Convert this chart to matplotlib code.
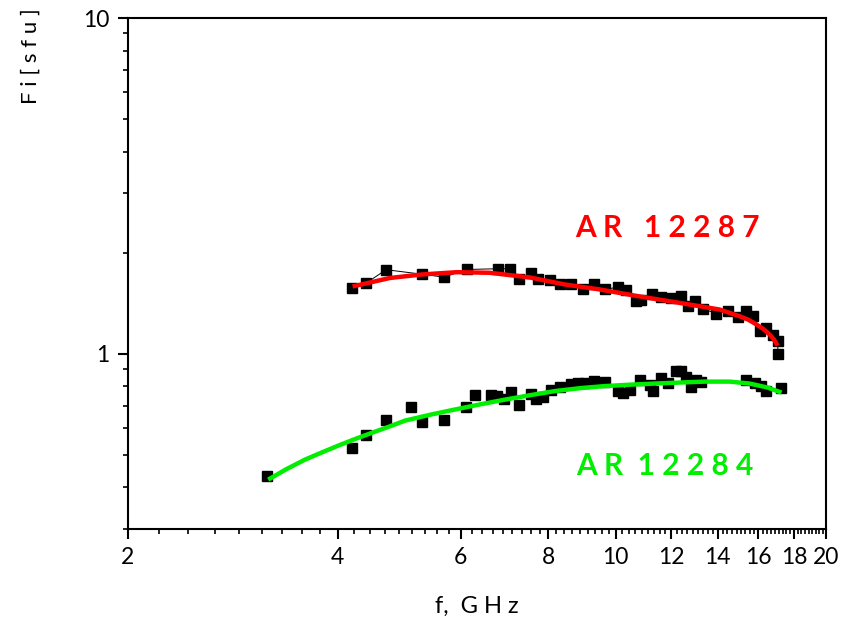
import numpy as np
import matplotlib.pyplot as plt
from matplotlib.ticker import FixedLocator, NullFormatter, LogLocator

plt.rcParams['font.family'] = ['Lato', 'DejaVu Sans']

# AR 12287 measured points (GHz, sfu)
f_12287 = [4.19, 4.39, 4.69, 5.28, 5.67, 6.13, 6.79, 7.05, 7.27, 7.55, 7.74,
           8.04, 8.31, 8.64, 8.98, 9.30, 9.64, 10.07, 10.36, 10.70, 10.88,
           11.25, 11.62, 12.01, 12.41, 12.69, 12.97, 13.33, 13.93, 14.47,
           14.96, 15.34, 15.72, 16.07, 16.42, 16.79, 17.06, 17.06]
s_12287 = [1.571, 1.621, 1.778, 1.724, 1.690, 1.781, 1.790, 1.790, 1.663,
           1.741, 1.663, 1.652, 1.607, 1.615, 1.553, 1.607, 1.553, 1.577,
           1.545, 1.439, 1.449, 1.500, 1.473, 1.467, 1.483, 1.384, 1.439,
           1.362, 1.314, 1.338, 1.283, 1.338, 1.292, 1.166, 1.193, 1.139,
           1.088, 1.000]

# AR 12287 fit curve
fit_f_12287 = [4.20, 4.75, 5.28, 5.92, 6.60, 7.53, 8.45, 9.48, 10.82, 12.76,
               14.08, 15.04, 15.50, 15.91, 16.30, 16.61, 16.85, 17.05]
fit_s_12287 = [1.585, 1.680, 1.721, 1.748, 1.741, 1.686, 1.607, 1.553, 1.480,
               1.400, 1.353, 1.292, 1.260, 1.220, 1.180, 1.139, 1.100, 1.056]

# AR 12284 measured points
f_12284 = [3.17, 4.19, 4.39, 4.69, 5.09, 5.28, 5.68, 6.11, 6.28, 6.62, 6.77,
           6.92, 7.07, 7.26, 7.56, 7.70, 7.87, 8.09, 8.31, 8.64, 8.83, 9.03,
           9.30, 9.64, 10.07, 10.24, 10.47, 10.82, 11.18, 11.31, 11.62, 11.88,
           12.21, 12.41, 12.62, 12.83, 13.04, 13.26, 15.38, 15.80, 16.12,
           16.39, 17.26]
s_12284 = [0.432, 0.523, 0.572, 0.632, 0.693, 0.624, 0.632, 0.691, 0.754,
           0.754, 0.746, 0.734, 0.768, 0.704, 0.758, 0.734, 0.741, 0.781,
           0.796, 0.812, 0.818, 0.818, 0.827, 0.821, 0.772, 0.763, 0.781,
           0.833, 0.808, 0.772, 0.846, 0.818, 0.890, 0.890, 0.852, 0.796,
           0.836, 0.821, 0.836, 0.818, 0.802, 0.775, 0.790]

# AR 12284 fit curve
fit_f_12284 = [3.18, 3.38, 3.59, 3.80, 4.00, 4.24, 4.48, 4.74, 4.99, 5.42,
               5.88, 6.40, 6.94, 7.55, 8.18, 8.90, 9.64, 10.50, 11.37, 12.40,
               13.41, 14.55, 15.55, 16.50, 17.27]
fit_s_12284 = [0.421, 0.453, 0.483, 0.508, 0.531, 0.557, 0.581, 0.606, 0.631,
               0.657, 0.681, 0.706, 0.729, 0.752, 0.773, 0.789, 0.800, 0.808,
               0.814, 0.820, 0.825, 0.825, 0.814, 0.792, 0.765]

x_major = [2, 4, 6, 8, 10, 12, 14, 16, 18, 20]

fig = plt.figure(figsize=(8.53, 6.28), dpi=100)
ax = fig.add_axes([0.1495, 0.1576, 0.8189, 0.8137])

# data points joined by a thin black line
ax.plot(f_12287, s_12287, color='black', lw=0.7, marker='s', ms=6.5, zorder=2)
ax.plot(f_12284, s_12284, color='black', lw=0, marker='s', ms=6.5, zorder=2)

# fits
ax.plot(fit_f_12287, fit_s_12287, color='#ff0000', lw=3.2, zorder=3,
        solid_capstyle='butt')
ax.plot(fit_f_12284, fit_s_12284, color='#00ee00', lw=3.2, zorder=3,
        solid_capstyle='butt')

ax.set_xscale('log')
ax.set_yscale('log')
ax.set_xlim(2, 20)
ax.set_ylim(0.3, 10)

ax.xaxis.set_major_locator(FixedLocator(x_major))
ax.set_xticklabels([str(v) for v in x_major])
minors = []
for a, b in zip(x_major[:-1], x_major[1:]):
    minors += [a + k * (b - a) / 9 for k in range(1, 9)]
ax.xaxis.set_minor_locator(FixedLocator(minors))
ax.xaxis.set_minor_formatter(NullFormatter())

ax.yaxis.set_major_locator(FixedLocator([1, 10]))
ax.set_yticklabels(['1', '10'])
ax.yaxis.set_minor_locator(LogLocator(base=10, subs=np.arange(2, 10)))
ax.yaxis.set_minor_formatter(NullFormatter())

for s in ax.spines.values():
    s.set_linewidth(1.5)
ax.tick_params(which='major', direction='out', length=7, width=1.5,
               labelsize=16.5, pad=6)
ax.tick_params(which='minor', direction='out', length=3.5, width=1.2)

ax.set_xlabel('f,  G H z', fontsize=17, labelpad=20)
ax.set_ylabel('F i [ s f u ]', fontsize=16)
ax.yaxis.set_label_coords(-0.125, 0.925)

ax.text(8.75, 2.36, 'A R   1 2 2 8 7', color='#ff0000', fontsize=21.5,
        fontweight='bold', va='center', ha='left')
ax.text(8.78, 0.463, 'A R  1 2 2 8 4', color='#00ee00', fontsize=21.5,
        fontweight='bold', va='center', ha='left')

fig.savefig('out.png', dpi=100)
